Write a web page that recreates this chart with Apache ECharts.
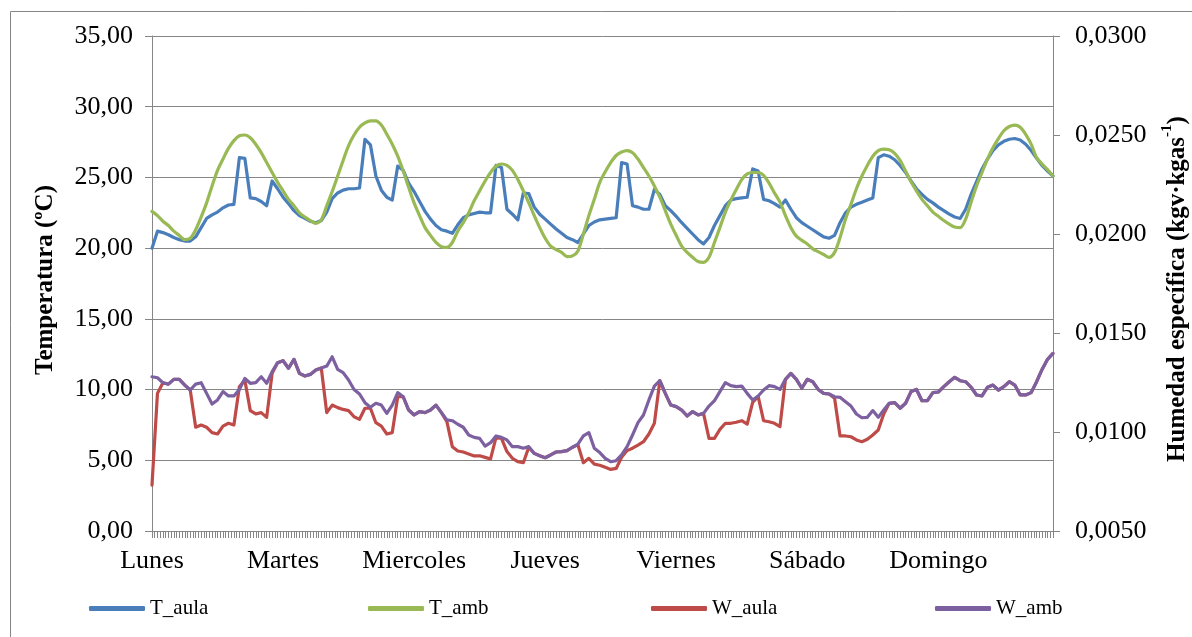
<!DOCTYPE html>
<html>
<head>
<meta charset="utf-8">
<script src="https://cdn.jsdelivr.net/npm/echarts@6/dist/echarts.min.js"></script>
<style>
html,body{margin:0;padding:0;background:#fff;}
#chart{width:1192px;height:637px;}
</style>
</head>
<body>
<div id="chart"></div>
<script>
// Day labels (one every 24 hourly samples)
const dayLabels = ['Lunes','Martes','Miercoles','Jueves','Viernes','Sábado','Domingo'];

// Hourly samples, 166 points (Lunes 0h ... Domingo ~21h)
const T_aula = [
20.0,21.2,21.1,20.95,20.75,20.6,20.5,20.5,20.8,21.45,
22.1,22.35,22.55,22.85,23.05,23.1,26.4,26.35,23.55,23.5,
23.3,23.0,24.75,24.2,23.6,23.15,22.65,22.3,22.1,21.9,
21.8,21.95,22.55,23.5,23.9,24.1,24.2,24.2,24.25,27.7,
27.3,25.1,24.1,23.6,23.4,25.8,25.5,24.6,24.0,23.3,
22.6,22.05,21.6,21.3,21.2,21.05,21.65,22.15,22.35,22.45,
22.55,22.5,22.5,25.85,25.7,22.75,22.4,22.0,23.9,23.85,
22.9,22.4,22.05,21.7,21.35,21.05,20.75,20.6,20.4,21.0,
21.6,21.85,22.0,22.05,22.1,22.15,26.05,25.95,23.0,22.9,
22.75,22.75,24.15,23.8,23.0,22.65,22.25,21.8,21.4,21.0,
20.6,20.3,20.75,21.6,22.3,23.0,23.4,23.5,23.55,23.6,
25.6,25.45,23.45,23.35,23.15,22.9,23.4,22.75,22.15,21.8,
21.55,21.3,21.05,20.8,20.7,20.9,21.8,22.5,22.9,23.1,
23.25,23.4,23.55,26.4,26.6,26.5,26.25,25.85,25.35,24.75,
24.2,23.8,23.45,23.2,22.9,22.65,22.4,22.2,22.1,22.75,
23.8,24.7,25.6,26.3,26.9,27.3,27.55,27.7,27.75,27.65,
27.35,26.9,26.35,25.85,25.45,25.1];

const T_amb = [
22.6,22.3,21.9,21.6,21.2,20.9,20.6,20.7,21.3,22.2,
23.2,24.4,25.5,26.3,27.05,27.6,27.95,28.0,27.8,27.35,
26.75,26.05,25.35,24.65,24.05,23.45,23.0,22.5,22.2,21.95,
21.75,22.0,23.0,24.0,25.1,26.2,27.25,28.0,28.55,28.85,
29.0,29.0,28.7,28.05,27.35,26.5,25.45,24.3,23.2,22.3,
21.45,20.9,20.4,20.1,20.05,20.4,21.2,21.8,22.5,23.35,
24.05,24.75,25.35,25.8,25.95,25.85,25.5,24.85,24.05,23.2,
22.3,21.45,20.7,20.15,19.9,19.7,19.4,19.45,19.8,21.0,
22.3,23.45,24.65,25.4,26.05,26.55,26.8,26.9,26.75,26.3,
25.7,25.1,24.4,23.6,22.65,21.7,20.9,20.15,19.7,19.35,
19.05,19.0,19.35,20.4,21.45,22.55,23.4,24.15,24.85,25.25,
25.35,25.35,25.15,24.6,23.9,23.25,22.3,21.45,20.85,20.55,
20.3,19.95,19.75,19.55,19.35,19.7,20.75,22.05,23.1,24.2,
25.1,25.85,26.5,26.9,27.0,26.95,26.7,26.2,25.45,24.7,
24.05,23.45,23.0,22.55,22.25,21.95,21.7,21.5,21.45,22.05,
23.25,24.4,25.35,26.3,27.1,27.75,28.3,28.6,28.7,28.55,
28.05,27.35,26.4,25.95,25.55,25.1];

const W_aula = [
0.00732,0.01195,0.01249,0.01242,0.01266,0.01266,0.01237,0.01212,0.01024,0.01035,
0.01024,0.00997,0.00990,0.01030,0.01044,0.01035,0.01229,0.01263,0.01108,0.01091,
0.01098,0.01074,0.01296,0.01350,0.01360,0.01322,0.01367,0.01296,0.01283,0.01291,
0.01313,0.01323,0.01098,0.01136,0.01123,0.01114,0.01108,0.01077,0.01064,0.01120,
0.01120,0.01047,0.01030,0.00990,0.00997,0.01178,0.01178,0.01111,0.01086,0.01103,
0.01098,0.01111,0.01136,0.01098,0.01052,0.00926,0.00904,0.00899,0.00889,0.00879,
0.00880,0.00872,0.00864,0.00973,0.00968,0.00901,0.00867,0.00850,0.00845,0.00923,
0.00892,0.00880,0.00870,0.00884,0.00899,0.00901,0.00906,0.00923,0.00935,0.00845,
0.00867,0.00838,0.00832,0.00822,0.00811,0.00816,0.00872,0.00906,0.00918,0.00934,
0.00951,0.00990,0.01044,0.01259,0.01195,0.01136,0.01128,0.01111,0.01081,0.01103,
0.01086,0.01094,0.00968,0.00968,0.01013,0.01044,0.01044,0.01049,0.01057,0.01040,
0.01150,0.01180,0.01057,0.01052,0.01044,0.01027,0.01266,0.01296,0.01266,0.01221,
0.01266,0.01254,0.01215,0.01195,0.01192,0.01170,0.00980,0.00980,0.00976,0.00960,
0.00951,0.00963,0.00985,0.01010,0.01091,0.01145,0.01148,0.01120,0.01145,0.01204,
0.01215,0.01158,0.01158,0.01199,0.01202,0.01229,0.01254,0.01276,0.01259,0.01254,
0.01226,0.01187,0.01182,0.01226,0.01237,0.01212,0.01229,0.01254,0.01237,0.01187,
0.01187,0.01199,0.01254,0.01316,0.01367,0.01397];

const W_amb = [
0.01279,0.01274,0.01249,0.01242,0.01266,0.01266,0.01237,0.01212,0.01242,0.01249,
0.01195,0.01141,0.01162,0.01204,0.01182,0.01182,0.01215,0.01271,0.01246,0.01249,
0.01279,0.01246,0.01305,0.01350,0.01360,0.01322,0.01367,0.01296,0.01283,0.01291,
0.01313,0.01323,0.01333,0.01380,0.01316,0.01300,0.01263,0.01215,0.01192,0.01148,
0.01125,0.01145,0.01136,0.01094,0.01136,0.01199,0.01178,0.01111,0.01086,0.01103,
0.01098,0.01111,0.01136,0.01098,0.01061,0.01057,0.01039,0.01024,0.00985,0.00973,
0.00968,0.00929,0.00946,0.00980,0.00973,0.00960,0.00926,0.00926,0.00918,0.00926,
0.00892,0.00880,0.00870,0.00884,0.00899,0.00901,0.00906,0.00923,0.00939,0.00980,
0.00997,0.00918,0.00896,0.00867,0.00850,0.00855,0.00884,0.00926,0.00985,0.01047,
0.01086,0.01162,0.01232,0.01259,0.01195,0.01136,0.01128,0.01111,0.01081,0.01103,
0.01086,0.01094,0.01131,0.01158,0.01204,0.01249,0.01234,0.01229,0.01232,0.01195,
0.01162,0.01182,0.01212,0.01234,0.01229,0.01215,0.01266,0.01296,0.01266,0.01221,
0.01266,0.01254,0.01215,0.01195,0.01192,0.01178,0.01175,0.01153,0.01131,0.01091,
0.01072,0.01074,0.01108,0.01074,0.01111,0.01145,0.01148,0.01120,0.01145,0.01204,
0.01215,0.01158,0.01158,0.01199,0.01202,0.01229,0.01254,0.01276,0.01259,0.01254,
0.01226,0.01187,0.01182,0.01226,0.01237,0.01212,0.01229,0.01254,0.01237,0.01187,
0.01187,0.01199,0.01254,0.01316,0.01367,0.01397];

// Left axis ticks (°C) and right axis ticks (kg/kg)
const tempTicks = {min: 0, max: 35, interval: 5};
const humTicks = {min: 0.005, max: 0.030, interval: 0.005};

// Category names: "Day hh" for each hourly sample
const categories = T_aula.map((_, i) => dayLabels[Math.floor(i / 24)] + ' ' + (i % 24) + 'h');
// half-hour tick marks along the time axis
const halfHourTicks = Array.from({length: (T_aula.length - 1) * 2 + 1}, (_, k) => 't' + k);

const FONT = '"Liberation Serif", "Times New Roman", serif';
const GRAY = '#868686';

const chart = echarts.init(document.getElementById('chart'), null, {renderer: 'canvas'});

const lineSeries = (name, data, color, yIdx, smooth) => ({
  name, type: 'line', data, xAxisIndex: 0, yAxisIndex: yIdx,
  symbol: 'none', smooth: smooth,
  lineStyle: {color, width: 3.2, cap: 'round', join: 'round'},
  itemStyle: {color},
  emphasis: {disabled: true}
});

const legendItem = (name, left) => ({
  data: [name], left, top: 593, icon: 'roundRect', itemWidth: 56, itemHeight: 5,
  textStyle: {fontFamily: FONT, fontSize: 21, color: '#000'},
  selectedMode: false
});

chart.setOption({
  animation: false,
  backgroundColor: '#fff',
  grid: {left: 152, right: 139, top: 36, bottom: 106, containLabel: false},
  xAxis: [
    {
      type: 'category', data: categories, boundaryGap: false, position: 'bottom',
      axisLine: {show: true, lineStyle: {color: GRAY, width: 1}},
      axisTick: {show: false},
      axisLabel: {
        interval: 23, margin: 17, fontFamily: FONT, fontSize: 26, color: '#000',
        formatter: v => v.split(' ')[0]
      },
      splitLine: {show: false}
    },
    {
      type: 'category', data: halfHourTicks, boundaryGap: false, position: 'bottom',
      axisLine: {show: false},
      axisTick: {show: true, interval: 0, length: 7, lineStyle: {color: GRAY, width: 1}},
      axisLabel: {show: false},
      splitLine: {show: false}
    }
  ],
  yAxis: [
    {
      type: 'value', position: 'left', min: tempTicks.min, max: tempTicks.max, interval: tempTicks.interval,
      axisLine: {show: true, lineStyle: {color: GRAY, width: 1}},
      axisTick: {show: true, length: 7, lineStyle: {color: GRAY}},
      axisLabel: {margin: 19, fontFamily: FONT, fontSize: 26, color: '#000',
        formatter: v => v.toFixed(2).replace('.', ',')},
      splitLine: {show: true, lineStyle: {color: GRAY, width: 1}}
    },
    {
      type: 'value', position: 'right', min: humTicks.min, max: humTicks.max, interval: humTicks.interval,
      axisLine: {show: true, lineStyle: {color: GRAY, width: 1}},
      axisTick: {show: true, length: 7, lineStyle: {color: GRAY}},
      axisLabel: {margin: 22, fontFamily: FONT, fontSize: 26, color: '#000',
        formatter: v => v.toFixed(4).replace('.', ',')},
      splitLine: {show: false}
    }
  ],
  legend: [
    legendItem('T_aula', 84),
    legendItem('T_amb', 363),
    legendItem('W_aula', 646),
    legendItem('W_amb', 930)
  ],
  series: [
    lineSeries('T_aula', T_aula, '#4A7EBB', 0, false),
    lineSeries('T_amb', T_amb, '#98B954', 0, 0.3),
    lineSeries('W_aula', W_aula, '#BE4B48', 1, false),
    lineSeries('W_amb', W_amb, '#7D60A0', 1, false)
  ],
  graphic: [
    {
      type: 'rect', silent: true, z: -1,
      shape: {x: 10.5, y: 11.5, width: 1300, height: 800},
      style: {fill: 'none', stroke: GRAY, lineWidth: 1}
    },
    {
      type: 'text', x: 46, y: 280, rotation: Math.PI / 2, silent: true,
      style: {text: 'Temperatura (ºC)', font: 'bold 25px ' + FONT, fill: '#000',
        align: 'center', verticalAlign: 'middle'}
    },
    {
      type: 'text', x: 1175, y: 289, rotation: Math.PI / 2, silent: true,
      style: {
        text: '{a|Humedad específica (kgv·kgas}{s|-1}{a|)}',
        align: 'center', verticalAlign: 'middle', fill: '#000',
        rich: {
          a: {fontFamily: FONT, fontWeight: 'bold', fontSize: 25, lineHeight: 30, fill: '#000', verticalAlign: 'bottom'},
          s: {fontFamily: FONT, fontWeight: 'bold', fontSize: 15, lineHeight: 30, fill: '#000', verticalAlign: 'top'}
        }
      }
    }
  ]
});
</script>
</body>
</html>
